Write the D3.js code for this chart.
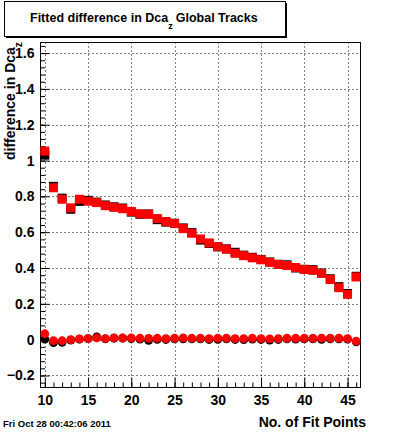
<!DOCTYPE html>
<html>
<head>
<meta charset="utf-8">
<script src="https://cdn.jsdelivr.net/npm/d3@7"></script>
<style>
  body { margin: 0; background: #fff; }
  svg { display: block; font-family: "Liberation Sans", Arial, sans-serif; }
</style>
</head>
<body>
<svg id="chart" width="400" height="433"></svg>
<script>
// Data
const fitPoints = [10, 11, 12, 13, 14, 15, 16, 17, 18, 19, 20, 21, 22, 23, 24, 25, 26, 27, 28,
  29, 30, 31, 32, 33, 34, 35, 36, 37, 38, 39, 40, 41, 42, 43, 44, 45, 46];

// squares (upper series)
const squaresBlack = [1.030, 0.856, 0.790, 0.728, 0.772, 0.778, 0.768, 0.752, 0.742, 0.735,
  0.712, 0.700, 0.702, 0.670, 0.656, 0.650, 0.624, 0.598, 0.556, 0.537, 0.518, 0.507, 0.488,
  0.472, 0.460, 0.448, 0.434, 0.421, 0.418, 0.400, 0.393, 0.391, 0.372, 0.340, 0.296, 0.258, 0.354];
const squaresRed = [1.053, 0.848, 0.784, 0.736, 0.784, 0.773, 0.765, 0.748, 0.739, 0.731,
  0.716, 0.703, 0.700, 0.676, 0.660, 0.648, 0.620, 0.594, 0.562, 0.540, 0.520, 0.505, 0.482,
  0.469, 0.457, 0.446, 0.432, 0.420, 0.414, 0.403, 0.392, 0.387, 0.370, 0.336, 0.290, 0.253, 0.350];

// circles (near zero)
const circlesBlack = [0.003, -0.016, -0.015, -0.003, 0.003, 0.006, 0.016, 0.004, 0.008, 0.008,
  0.006, 0.003, -0.004, 0.002, 0.001, 0.004, 0.005, 0.004, 0.004, 0.001, 0.002, 0.004, 0.001,
  0.000, 0.003, 0.001, -0.002, 0.001, 0.004, 0.003, 0.004, 0.004, 0.002, 0.004, 0.004, 0.003, -0.012];
const circlesRed = [0.033, -0.005, -0.006, 0.000, 0.004, 0.006, 0.010, 0.006, 0.010, 0.010,
  0.010, 0.008, 0.007, 0.008, 0.006, 0.008, 0.010, 0.008, 0.008, 0.006, 0.008, 0.008, 0.006,
  0.006, 0.008, 0.006, 0.005, 0.006, 0.008, 0.008, 0.008, 0.008, 0.009, 0.009, 0.009, 0.006, -0.008];

const xTicks = [10, 15, 20, 25, 30, 35, 40, 45];
const yTicks = [-0.2, 0, 0.2, 0.4, 0.6, 0.8, 1, 1.2, 1.4, 1.6];

// Frame
const frameL = 40.5, frameR = 360.5, frameT = 42.5, frameB = 387.5;

const svg = d3.select('#chart');

const x = d3.scaleLinear().domain([9.5, 46.5]).range([frameL, frameR]);
const y = d3.scaleLinear().domain([-0.267, 1.659]).range([frameB, frameT]);

// Grid
const grid = svg.append('g').attr('stroke', '#000').attr('stroke-width', 1)
  .attr('stroke-dasharray', '1,3');
grid.selectAll('.gx').data(xTicks).join('line')
  .attr('x1', d => Math.round(x(d)) + 0.5).attr('x2', d => Math.round(x(d)) + 0.5)
  .attr('y1', frameT).attr('y2', frameB);
grid.selectAll('.gy').data(yTicks).join('line')
  .attr('y1', d => Math.round(y(d)) + 0.5).attr('y2', d => Math.round(y(d)) + 0.5)
  .attr('x1', frameL).attr('x2', frameR);

// Axes (ticks inside the frame, ROOT style)
const xMinor = d3.range(10, 47, 1);
const yMinor = d3.range(-0.24, 1.66, 0.04);

const xAxisMinor = d3.axisBottom(x).tickValues(xMinor).tickSize(-5).tickFormat('');
const xAxis = d3.axisBottom(x).tickValues(xTicks).tickSize(-10).tickPadding(8)
  .tickFormat(d3.format('d'));
const yAxisMinor = d3.axisLeft(y).tickValues(yMinor).tickSize(-4.5).tickFormat('');
const yAxis = d3.axisLeft(y).tickValues(yTicks).tickSize(-9).tickPadding(6)
  .tickFormat(d => d === 0 ? '0' : d3.format('.1f')(d).replace(/^1\.0$/, '1'));

function styleAxis(g) {
  g.select('.domain').remove();
  g.selectAll('line').attr('stroke', '#000');
  g.selectAll('text').attr('fill', '#000').attr('font-size', 14).attr('font-weight', 'bold');
}

svg.append('g').attr('transform', `translate(0,${frameB})`).call(xAxisMinor).call(styleAxis);
svg.append('g').attr('transform', `translate(0,${frameB})`).call(xAxis).call(styleAxis);
svg.append('g').attr('transform', `translate(${frameL},0)`).call(yAxisMinor).call(styleAxis);
svg.append('g').attr('transform', `translate(${frameL},0)`).call(yAxis).call(styleAxis);

// Frame
svg.append('rect')
  .attr('x', frameL).attr('y', frameT)
  .attr('width', frameR - frameL).attr('height', frameB - frameT)
  .attr('fill', 'none').attr('stroke', '#000').attr('stroke-width', 1);

// Markers
const marks = svg.append('g');
const sq = 9;

function drawSquares(values, color) {
  marks.append('g').selectAll('rect').data(values).join('rect')
    .attr('x', (d, i) => x(fitPoints[i]) - sq / 2)
    .attr('y', d => y(d) - sq / 2)
    .attr('width', sq).attr('height', sq)
    .attr('fill', color);
}

function drawCircles(values, color) {
  marks.append('g').selectAll('circle').data(values).join('circle')
    .attr('cx', (d, i) => x(fitPoints[i]))
    .attr('cy', d => y(d))
    .attr('r', 4.4)
    .attr('fill', color);
}

drawSquares(squaresBlack, '#000');
drawCircles(circlesBlack, '#000');
drawSquares(squaresRed, '#ff0000');
drawCircles(circlesRed, '#ff0000');

// Axis titles
svg.append('text')
  .attr('x', 366).attr('y', 427)
  .attr('text-anchor', 'end')
  .attr('font-size', 14).attr('font-weight', 'bold')
  .text('No. of Fit Points');

const yTitle = svg.append('text')
  .attr('transform', 'translate(15,160) rotate(-90)')
  .attr('font-size', 14).attr('font-weight', 'bold');
yTitle.append('tspan').text('difference in Dca');
yTitle.append('tspan').attr('font-size', 10).attr('dy', 7).text('z');

// Title box with shadow
svg.append('rect')
  .attr('x', 4.5).attr('y', 1.5).attr('width', 281).attr('height', 35)
  .attr('fill', '#fff').attr('stroke', '#000');
svg.append('line').attr('x1', 6).attr('x2', 287).attr('y1', 37.5).attr('y2', 37.5).attr('stroke', '#000');
svg.append('line').attr('x1', 286.5).attr('x2', 286.5).attr('y1', 3).attr('y2', 38).attr('stroke', '#000');

const title = svg.append('text')
  .attr('x', 30).attr('y', 22)
  .attr('font-size', 12.5).attr('font-weight', 'bold');
title.append('tspan').text('Fitted difference in Dca');
title.append('tspan').attr('dy', 7).attr('font-size', 9).text('z');
title.append('tspan').attr('dy', -7).attr('dx', 3).text('Global Tracks');

// Date stamp
svg.append('text')
  .attr('x', 3).attr('y', 427)
  .attr('font-size', 9.5).attr('font-weight', 'bold')
  .text('Fri Oct 28 00:42:06 2011');
</script>
</body>
</html>
